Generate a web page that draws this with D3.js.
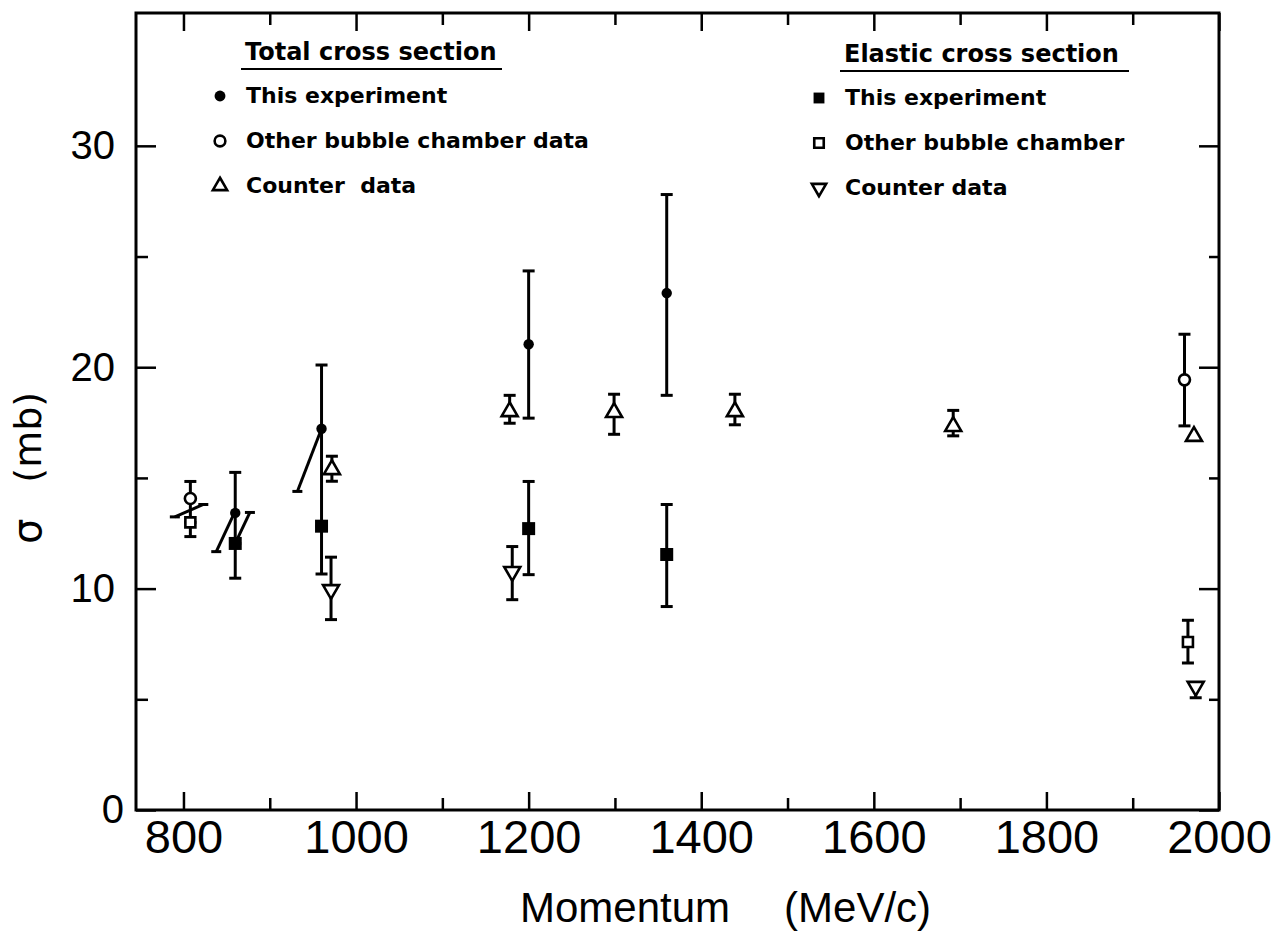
<!DOCTYPE html>
<meta charset="utf-8">

<style type="text/css">
  body { margin: 0; background: #fff; }

  .frame { fill: none; stroke: #000; stroke-width: 3; }
  .axis path.domain { display: none; }
  .axis line { stroke: #000; stroke-width: 2.5; }
  .axis text { fill: #000; font-family: "Liberation Sans", sans-serif; }

  .bar { stroke: #000; stroke-width: 3; fill: none; }
  .legend text { fill: #000; font-family: "DejaVu Sans", sans-serif; font-weight: bold; white-space: pre; }
  .title { fill: #000; font-family: "Liberation Sans", sans-serif; white-space: pre; }
</style>
<body>
</body>

<script src="https://d3js.org/d3.v7.min.js"></script>
<script>

// momentum p (MeV/c), cross section s (mb), error bar ends lo / hi (null = no bar that side)

// total cross section
var totalThis = [
  {p: 860,  s: 13.42, lo: 12.04, hi: 15.25},
  {p: 960,  s: 17.22, lo: 12.82, hi: 20.1},
  {p: 1200, s: 21.04, lo: 17.7,  hi: 24.35},
  {p: 1360, s: 23.35, lo: 18.73, hi: 27.8}
];
var totalBubble = [
  {p: 808,  s: 14.07, lo: 12.99, hi: 14.84},
  {p: 1960, s: 19.43, lo: 17.35, hi: 21.49}
];
var totalCounter = [
  {p: 972,  s: 15.38, lo: 14.85, hi: 15.98},
  {p: 1178, s: 18.0,  lo: 17.47, hi: 18.73},
  {p: 1299, s: 17.96, lo: 16.97, hi: 18.78},
  {p: 1439, s: 18.0,  lo: 17.4,  hi: 18.78},
  {p: 1692, s: 17.33, lo: 16.9,  hi: 18.05},
  {p: 1971, s: 16.88, lo: null,  hi: null}
];

// elastic cross section
var elasticThis = [
  {p: 860,  s: 12.04, lo: 10.47, hi: null},
  {p: 960,  s: 12.82, lo: 10.66, hi: null},
  {p: 1200, s: 12.71, lo: 10.63, hi: 14.84},
  {p: 1360, s: 11.54, lo: 9.19,  hi: 13.8}
];
var elasticBubble = [
  {p: 808,  s: 12.99, lo: 12.35, hi: null},
  {p: 1964, s: 7.59,  lo: 6.64,  hi: 8.57}
];
var elasticCounter = [
  {p: 971,  s: 9.95,  lo: 8.6,   hi: 11.42},
  {p: 1181, s: 10.77, lo: 9.5,   hi: 11.9},
  {p: 1973, s: 5.58,  lo: 5.07,  hi: null}
];

// slanted strokes next to the low momentum points (cap1 / cap2 = bar at that end)
var slants = [
  {p1: 790, s1: 13.24, p2: 823, s2: 13.8,  cap1: true,  cap2: true},
  {p1: 838, s1: 11.67, p2: 859, s2: 13.42, cap1: true,  cap2: false},
  {p1: 860, s1: 12.04, p2: 877, s2: 13.44, cap1: false, cap2: true},
  {p1: 932, s1: 14.39, p2: 960, s2: 17.22, cap1: true,  cap2: false}
];

// ticks
var xMajor = [800, 1000, 1200, 1400, 1600, 1800, 2000];
var xMinor = [900, 1100, 1300, 1500, 1700, 1900];
var yMajor = [0, 10, 20, 30];
var yMinor = [5, 15, 25];

// legend text
var totalLabels = ["This experiment", "Other bubble chamber data", "Counter  data"];
var elasticLabels = ["This experiment", "Other bubble chamber", "Counter data"];

var margin = {top: 13, right: 64, bottom: 123, left: 136}
  , width = 1283 - margin.left - margin.right
  , height = 933 - margin.top - margin.bottom;

var xScale = d3.scaleLinear()
    .domain([745, 2000])
    .range([0, width]);
var yScale = d3.scaleLinear()
    .domain([0, 36])
    .range([height, 0]);

var svg = d3.select("body").append("svg")
    .attr("width", width + margin.left + margin.right)
    .attr("height", height + margin.top + margin.bottom)
  .append("g")
    .attr("transform", "translate(" + margin.left + "," + margin.top + ")");

// axes, all ticks point inward
function addAxis(axis, tx, ty, values, size, labels, fontSize, pad) {
  var g = svg.append("g")
      .attr("class", "axis")
      .attr("transform", "translate(" + tx + "," + ty + ")")
      .call(axis.tickValues(values).tickSize(-size).tickPadding(pad || 0)
        .tickFormat(labels ? d3.format("d") : ""));
  g.selectAll("text").style("font-size", fontSize + "px");
  return g;
}

addAxis(d3.axisBottom(xScale), 0, height, xMajor, 18, true, 47, 10);
addAxis(d3.axisBottom(xScale), 0, height, xMinor, 12, false);
addAxis(d3.axisTop(xScale), 0, 0, xMajor, 18, false);
addAxis(d3.axisTop(xScale), 0, 0, xMinor, 12, false);
var yAx = addAxis(d3.axisLeft(yScale), 0, 0, yMajor, 20, true, 40, 21);
yAx.selectAll(".tick text").filter(function(d) { return d === 0; }).attr("x", -12);
addAxis(d3.axisLeft(yScale), 0, 0, yMinor, 12, false);
addAxis(d3.axisRight(yScale), width, 0, yMajor, 20, false);
addAxis(d3.axisRight(yScale), width, 0, yMinor, 10, false);

svg.append("rect")
    .attr("class", "frame")
    .attr("width", width)
    .attr("height", height);

// axis titles
svg.append("text")
    .attr("class", "title")
    .attr("x", 384)
    .attr("y", 909)
    .style("font-size", "42px")
    .text("Momentum")
  .append("tspan")
    .attr("dx", 54)
    .text("(MeV/c)");

var yt = svg.append("text")
    .attr("class", "title")
    .attr("transform", "translate(-95,531) rotate(-90)")
    .style("font-family", "DejaVu Sans")
    .style("font-size", "38px");
yt.append("tspan").style("font-size", "40px").text("σ");
yt.append("tspan").attr("dx", 36).text("(mb)");

// error bars
var capW = 6;
var bars = svg.append("g").attr("class", "bar");
var allPoints = [].concat(totalThis, totalBubble, totalCounter, elasticThis, elasticBubble, elasticCounter);
allPoints.forEach(function(d) {
  var x = xScale(d.p);
  [d.lo, d.hi].forEach(function(e) {
    if (e === null) return;
    bars.append("line")
        .attr("x1", x).attr("x2", x)
        .attr("y1", yScale(d.s)).attr("y2", yScale(e));
    bars.append("line")
        .attr("x1", x - capW).attr("x2", x + capW)
        .attr("y1", yScale(e)).attr("y2", yScale(e));
  });
});

slants.forEach(function(d) {
  bars.append("line")
      .attr("x1", xScale(d.p1)).attr("y1", yScale(d.s1))
      .attr("x2", xScale(d.p2)).attr("y2", yScale(d.s2));
  if (d.cap1) bars.append("line")
      .attr("x1", xScale(d.p1) - 5).attr("x2", xScale(d.p1) + 5)
      .attr("y1", yScale(d.s1)).attr("y2", yScale(d.s1));
  if (d.cap2) bars.append("line")
      .attr("x1", xScale(d.p2) - 5).attr("x2", xScale(d.p2) + 5)
      .attr("y1", yScale(d.s2)).attr("y2", yScale(d.s2));
});

// markers
var kinds = {
  dot:    {type: d3.symbolCircle,   size: 85,  fill: true,  rot: 0},
  ring:   {type: d3.symbolCircle,   size: 95,  fill: false, rot: 0},
  box:    {type: d3.symbolSquare,   size: 169, fill: true,  rot: 0},
  openBox:{type: d3.symbolSquare,   size: 100, fill: false, rot: 0},
  up:     {type: d3.symbolTriangle, size: 111, fill: false, rot: 0},
  down:   {type: d3.symbolTriangle, size: 111, fill: false, rot: 180}
};

function marker(g, kind, scale) {
  var k = kinds[kind];
  return g.append("path")
      .attr("d", d3.symbol(k.type, k.size * (scale || 1))())
      .attr("fill", k.fill ? "#000" : "#fff")
      .attr("stroke", "#000")
      .attr("stroke-width", k.fill ? 0 : 2.6)
      .attr("stroke-linejoin", "miter");
}

function drawSeries(data, kind) {
  data.forEach(function(d) {
    marker(svg, kind)
        .attr("transform", "translate(" + xScale(d.p) + "," + yScale(d.s) + ") rotate(" + kinds[kind].rot + ")");
  });
}

drawSeries(totalThis, "dot");
drawSeries(totalBubble, "ring");
drawSeries(totalCounter, "up");
drawSeries(elasticThis, "box");
drawSeries(elasticBubble, "openBox");
drawSeries(elasticCounter, "down");

// legends
function legend(x, y, header, lineW, labels, kinds2, scales) {
  var g = svg.append("g").attr("class", "legend").attr("transform", "translate(" + x + "," + y + ")");
  g.append("text").attr("x", 0).attr("y", 0).style("font-size", "24px").text(header);
  g.append("line")
      .attr("x1", -4).attr("x2", lineW).attr("y1", 9).attr("y2", 9)
      .attr("stroke", "#000").attr("stroke-width", 2.2);
  labels.forEach(function(t, i) {
    var rowY = 43 + i * 45;
    g.append("text").attr("x", 1).attr("y", rowY).style("font-size", "22px").text(t);
    marker(g, kinds2[i], scales[i])
        .attr("transform", "translate(-25," + (rowY - 7) + ") rotate(" + kinds[kinds2[i]].rot + ")");
  });
}

legend(109, 47, "Total cross section", 257, totalLabels, ["dot", "ring", "up"], [1.1, 0.95, 0.8]);
legend(708, 49, "Elastic cross section", 285, elasticLabels, ["box", "openBox", "down"], [0.7, 0.9, 0.8]);

</script>
